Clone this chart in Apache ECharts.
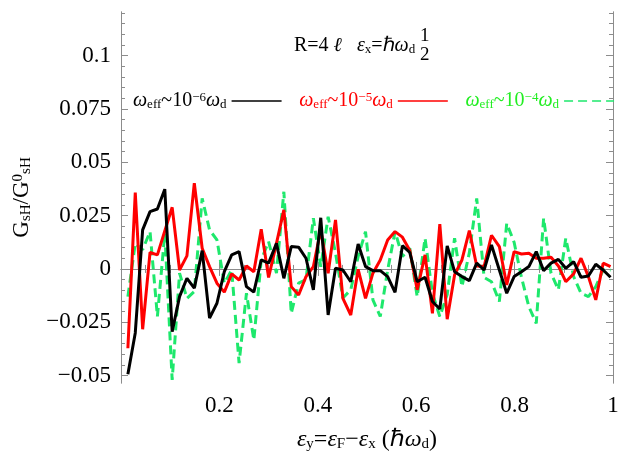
<!DOCTYPE html>
<html>
<head>
<meta charset="utf-8">
<script src="https://cdn.jsdelivr.net/npm/echarts@6/dist/echarts.min.js"></script>
<style>
  html, body { margin: 0; padding: 0; background: #fff; }
  #chart { width: 623px; height: 467px; }
</style>
</head>
<body>
<div id="chart"></div>
<script>
// x positions (epsilon_y, in hbar omega_d)
const xs = [0.014, 0.029, 0.044, 0.059, 0.074, 0.089, 0.104, 0.119, 0.134, 0.149,
  0.165, 0.180, 0.195, 0.210, 0.225, 0.240, 0.255, 0.270, 0.285, 0.300,
  0.316, 0.331, 0.346, 0.361, 0.376, 0.391, 0.406, 0.421, 0.436, 0.451,
  0.467, 0.482, 0.497, 0.512, 0.527, 0.542, 0.557, 0.572, 0.587, 0.602,
  0.618, 0.633, 0.648, 0.663, 0.678, 0.693, 0.708, 0.723, 0.738, 0.753,
  0.769, 0.784, 0.799, 0.814, 0.829, 0.844, 0.859, 0.874, 0.889, 0.904,
  0.920, 0.935, 0.950, 0.965, 0.980, 0.995]

// omega_eff ~ 1e-6 omega_d
const black = [-0.0494, -0.030, 0.0183, 0.0269, 0.0281, 0.0374, -0.0294, -0.013, -0.0044, -0.009,
  0.0086, -0.0231, -0.0161, -0.0013, 0.0066, 0.0081, -0.0083, -0.0109, 0.0042, 0.0027,
  0.012, -0.0044, 0.0105, 0.0102, 0.005, -0.0098, 0.024, -0.0216, 0.0003, -0.0005,
  -0.006, 0.0117, 0.0011, -0.0008, -0.0008, -0.0036, -0.011, 0.0109, 0.0077, -0.006,
  -0.0039, -0.0153, -0.0188, 0.0108, -0.0013, -0.0036, -0.0055, 0.0027, -0.0005, 0.0113,
  -0.0005, -0.0114, -0.0036, -0.0013, 0.0011, 0.0081, -0.0008, 0.0027, 0.0045, 0.0003,
  0.0034, -0.0039, -0.0033, 0.0022, -0.0005, -0.0039]

// omega_eff ~ 1e-5 omega_d
const red = [-0.0372, 0.0358, -0.0283, 0.0077, 0.0066, 0.0178, 0.0289, -0.0005, 0.0061, 0.0402,
  0.0097, 0.0011, -0.0067, -0.0109, -0.0023, -0.0052, 0.0014, -0.0013, 0.0186, -0.004,
  0.012, 0.0277, -0.0083, -0.0122, -0.0036, 0.0011, 0.0183, -0.002, 0.023, -0.0138,
  -0.0216, -0.0002, -0.0138, -0.002, 0.0042, 0.0136, 0.0175, 0.0149, 0.0086, -0.0098,
  0.0066, -0.0208, 0.021, -0.0236, -0.0028, 0.0042, 0.018, 0.0014, 0.0011, 0.0158,
  0.0105, -0.0075, 0.0081, 0.007, 0.0073, 0.005, 0.005, 0.0055, 0.0014, -0.006,
  -0.0023, 0.005, -0.0036, -0.0145, 0.0027, 0.0011]

// omega_eff ~ 1e-4 omega_d
const green = [-0.013, 0.012, 0.009, 0.0175, -0.0223, 0.0167, -0.052, -0.002, -0.0138, -0.0106,
  0.0331, 0.0183, 0.0136, -0.0067, -0.0005, -0.0442, -0.0114, -0.0333, 0.0042, 0.0128,
  -0.002, 0.0362, -0.0208, -0.0067, -0.005, 0.0238, 0.001, 0.0245, 0.0075, -0.0136,
  -0.0098, 0.0058, 0.0175, -0.0145, -0.0223, -0.0005, 0.0175, 0.0058, 0.0097, -0.013,
  0.0144, -0.0114, -0.0223, -0.012, 0.0144, -0.0083, 0.0075, 0.0331, -0.004, -0.006,
  -0.0153, 0.0214, 0.0125, -0.004, -0.0177, -0.0255, 0.0238, -0.002, -0.0098, 0.0144,
  -0.0036, -0.0114, -0.013, -0.0083, -0.0005, -0.0005]

const yTicks = [-0.05, -0.025, 0, 0.025, 0.05, 0.075, 0.1]
const yMinorTicks = []
for (let v = -50; v <= 120; v += 5) yMinorTicks.push(v / 1000)

const legendNames = ['w6', 'w5', 'w4']
const legendExp = { w6: '−6', w5: '−5', w4: '−4' }

const serif = 'Liberation Serif'
const frame = '#8c8c8c'
const rich = {
  i: { fontFamily: serif, fontStyle: 'italic', fontSize: 20 },
  n: { fontFamily: serif, fontSize: 20 },
  sub: { fontFamily: serif, fontSize: 13, verticalAlign: 'bottom', lineHeight: 16, padding: [9, 0, 0, 0] },
  sup: { fontFamily: serif, fontSize: 13, verticalAlign: 'top', lineHeight: 16, padding: [0, 0, 9, 0] }
}

const chart = echarts.init(document.getElementById('chart'))

function pairs(ys) {
  return xs.map((x, i) => [x, ys[i]])
}

function minus(v) {
  return String(v).replace('-', '−')
}

const tickBase = {
  axisLine: { show: true, lineStyle: { color: frame, width: 1 } },
  splitLine: { show: false },
  axisPointer: { show: false }
}

const option = {
  animation: false,
  grid: { left: 121, right: 10, top: 12, bottom: 84 },
  legend: {
    data: legendNames.map((n, k) => ({
      name: n,
      textStyle: { color: ['#000', '#ff0000', '#22ee22'][k], rich: rich }
    })),
    formatter: n => '{i|ω}{sub|eff}{n|~10}{sup|' + legendExp[n] + '}{i|ω}{sub|d}',
    align: 'right',
    left: 133,
    top: 89,
    width: 520,
    padding: 0,
    itemGap: 17,
    itemWidth: 50,
    itemHeight: 12,
    itemStyle: { opacity: 0 },
    lineStyle: { width: 1.3 },
    textStyle: { fontFamily: serif, fontSize: 20, rich: rich }
  },
  xAxis: [
    Object.assign({}, tickBase, {
      type: 'value', position: 'bottom', min: 0, max: 1, interval: 0.2,
      axisTick: { inside: true, length: 7, lineStyle: { color: frame } },
      minorTick: { show: true, splitNumber: 4, length: 4, lineStyle: { color: frame } },
      axisLabel: {
        color: '#000', fontFamily: serif, fontSize: 23, margin: 11,
        formatter: v => (v === 0 ? '' : String(v))
      },
      name: '{i|ε}{sub|y}{n|=}{i|ε}{sub|F}{n|−}{i|ε}{sub|x}{n| (ℏ}{i|ω}{sub|d}{n|)}',
      nameLocation: 'middle',
      nameGap: 45,
      nameTextStyle: { color: '#000', fontFamily: serif, fontSize: 24, rich: {
        i: { fontFamily: serif, fontStyle: 'italic', fontSize: 24 },
        n: { fontFamily: serif, fontSize: 24 },
        sub: { fontFamily: serif, fontSize: 15, verticalAlign: 'bottom', lineHeight: 16, padding: [10, 0, 0, 0] }
      } }
    }),
    Object.assign({}, tickBase, {
      type: 'value', position: 'top', min: 0, max: 1, interval: 0.2,
      axisTick: { inside: true, length: 7, lineStyle: { color: frame } },
      minorTick: { show: true, splitNumber: 4, length: 4, lineStyle: { color: frame } },
      axisLabel: { show: false }
    })
  ],
  yAxis: [
    Object.assign({}, tickBase, {
      type: 'value', position: 'left', min: -0.0535, max: 0.1205,
      axisTick: { inside: true, length: 7, customValues: yTicks, lineStyle: { color: frame } },
      axisLabel: {
        color: '#000', fontFamily: serif, fontSize: 23, margin: 10,
        customValues: yTicks, formatter: v => minus(v)
      },
      name: '{n|G}{sub|sH}{n|/G}{sup|0}{sub|sH}',
      nameLocation: 'middle',
      nameRotate: 90,
      nameGap: 60,
      nameTextStyle: { color: '#000', fontFamily: serif, fontSize: 23, rich: {
        n: { fontFamily: serif, fontSize: 23 },
        sub: { fontFamily: serif, fontSize: 15, verticalAlign: 'bottom', lineHeight: 16, padding: [10, 0, 0, 0] },
        sup: { fontFamily: serif, fontSize: 15, verticalAlign: 'top', lineHeight: 16, padding: [0, 0, 10, 0] }
      } }
    }),
    Object.assign({}, tickBase, {
      type: 'value', position: 'left', min: -0.0535, max: 0.1205,
      axisTick: { inside: true, length: 4, customValues: yMinorTicks, lineStyle: { color: frame } },
      axisLabel: { show: false }
    }),
    Object.assign({}, tickBase, {
      type: 'value', position: 'right', min: -0.0535, max: 0.1205,
      axisTick: { inside: true, length: 7, customValues: yTicks, lineStyle: { color: frame } },
      axisLabel: { show: false }
    }),
    Object.assign({}, tickBase, {
      type: 'value', position: 'right', min: -0.0535, max: 0.1205,
      axisTick: { inside: true, length: 4, customValues: yMinorTicks, lineStyle: { color: frame } },
      axisLabel: { show: false }
    })
  ],
  graphic: [
    {
      type: 'text', left: 294, top: 34,
      style: {
        text: '{n|R=4 }{i|ℓ}{n|   }{i|ε}{sub|x}{n|=ℏ}{i|ω}{sub|d}',
        fill: '#000', fontFamily: serif, fontSize: 20, rich: rich
      }
    },
    {
      type: 'text', left: 420, top: 27,
      style: { text: '1', fill: '#000', fontFamily: serif, fontSize: 19 }
    },
    {
      type: 'text', left: 420, top: 46,
      style: { text: '2', fill: '#000', fontFamily: serif, fontSize: 19 }
    }
  ],
  series: [
    {
      name: 'w6', type: 'line', data: pairs(black), symbol: 'none',
      lineStyle: { color: '#000', width: 3 }, itemStyle: { color: '#000' }, z: 5
    },
    {
      name: 'w5', type: 'line', data: pairs(red), symbol: 'none',
      lineStyle: { color: '#ff0000', width: 3 }, itemStyle: { color: '#ff0000' }, z: 4
    },
    {
      name: 'w4', type: 'line', data: pairs(green), symbol: 'none',
      lineStyle: { color: '#1ee86c', width: 3, type: [9, 5] }, itemStyle: { color: '#22ee22' }, z: 3
    }
  ]
}

chart.setOption(option)
</script>
</body>
</html>
